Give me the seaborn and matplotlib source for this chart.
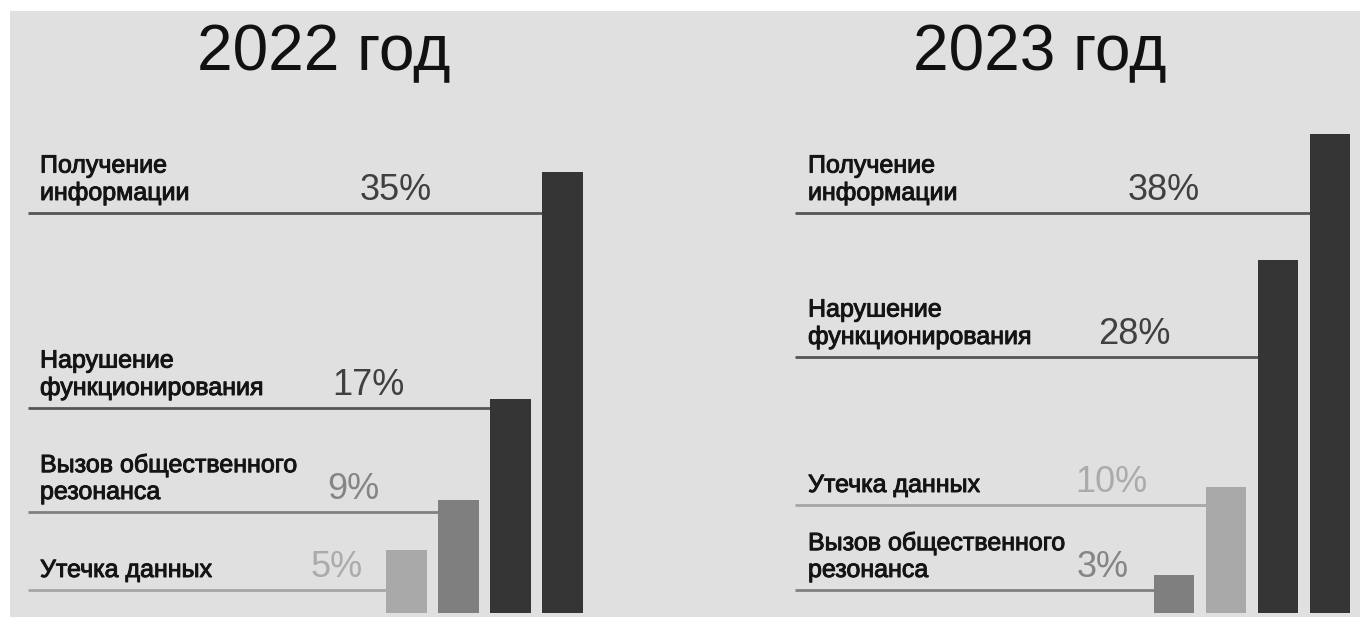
import matplotlib
matplotlib.use("Agg")
import matplotlib.pyplot as plt
import matplotlib.patheffects as pe
import seaborn as sns
import pandas as pd
from matplotlib.patches import Rectangle

# ---------------- data ----------------
years = ["2022 год", "2023 год"]
cats_2022 = ["Утечка данных", "Вызов общественного\nрезонанса",
             "Нарушение\nфункционирования", "Получение\nинформации"]
vals_2022 = [5, 9, 17, 35]
cats_2023 = ["Вызов общественного\nрезонанса", "Утечка данных",
             "Нарушение\nфункционирования", "Получение\nинформации"]
vals_2023 = [3, 10, 28, 38]
pct_2022 = ["5%", "9%", "17%", "35%"]
pct_2023 = ["3%", "10%", "28%", "38%"]

# ---------------- styling / layout ----------------
W, H = 1360, 617
sns.set_theme(style="white")
plt.rcParams["font.family"] = ["Liberation Sans", "DejaVu Sans"]

bar_colors = {
    "Утечка данных": "#a9a9a9",
    "Вызов общественного\nрезонанса": "#7f7f7f",
    "Нарушение\nфункционирования": "#353535",
    "Получение\nинформации": "#353535",
}
line_colors = {
    "Утечка данных": "#a6a6a6",
    "Вызов общественного\nрезонанса": "#808080",
    "Нарушение\nфункционирования": "#555555",
    "Получение\nинформации": "#555555",
}
pct_colors = {
    "Утечка данных": "#ababab",
    "Вызов общественного\nрезонанса": "#858585",
    "Нарушение\nфункционирования": "#404040",
    "Получение\nинформации": "#404040",
}

base_px = 613          # pixel row of value 0
px_per_unit = 12.6     # pixels per percent
bar_step_px = 52.0

panels = [
    dict(cats=cats_2022, vals=vals_2022, pct=pct_2022, title=years[0],
         ax_px=(0, 680), first_center=406.5, title_x=324,
         line_start=28, label_x=40,
         line_rows=[590, 512, 408, 213],
         pct_x=[310, 327, 332, 360]),
    dict(cats=cats_2023, vals=vals_2023, pct=pct_2023, title=years[1],
         ax_px=(680, 1360), first_center=1174, title_x=1040,
         line_start=795, label_x=808,
         line_rows=[590, 505, 357, 213],
         pct_x=[1077, 1075, 1098, 1128]),
]

fig = plt.figure(figsize=(W / 100, H / 100), dpi=100)
fig.patch.set_facecolor("white")
bg = fig.add_axes([0, 0, 1, 1], zorder=-5)
bg.set_xlim(0, W)
bg.set_ylim(H, 0)
bg.axis("off")
bg.add_patch(Rectangle((10, 11), W - 10, H - 11, facecolor="#e0e0e0",
                       edgecolor="none"))

label_fx = [pe.withStroke(linewidth=0.7, foreground="#141414")]

for p in panels:
    x0, x1 = p["ax_px"]
    ax = fig.add_axes([x0 / W, (H - base_px) / H, (x1 - x0) / W, base_px / H])
    ax.set_facecolor("none")
    df = pd.DataFrame({"cat": p["cats"], "val": p["vals"]})
    sns.barplot(data=df, x="cat", y="val", hue="cat", order=p["cats"],
                hue_order=p["cats"], palette=bar_colors, width=0.78,
                legend=False, ax=ax, saturation=1, linewidth=0, zorder=3)
    ax.set_xlim(-(p["first_center"] - x0) / bar_step_px,
                (x1 - p["first_center"]) / bar_step_px)
    ax.set_ylim(0, base_px / px_per_unit)
    ax.axis("off")

    px2x = lambda xp: (xp - p["first_center"]) / bar_step_px
    px2y = lambda yp: (base_px - yp) / px_per_unit

    bars = list(ax.patches)
    for i, cat in enumerate(p["cats"]):
        bar = bars[i]
        ly = px2y(p["line_rows"][i])
        ax.hlines(ly, px2x(p["line_start"]), bar.get_x(),
                  color=line_colors[cat], lw=2.0, zorder=2)
        ax.text(px2x(p["label_x"]), px2y(p["line_rows"][i] - 13), cat,
                ha="left", va="baseline", fontsize=18, color="#141414",
                linespacing=1.15, path_effects=label_fx)
        ax.text(px2x(p["pct_x"][i]), px2y(p["line_rows"][i] - 13), p["pct"][i],
                ha="left", va="baseline", fontsize=26, color=pct_colors[cat])

    fig.text(p["title_x"] / W, 1 - 70 / H, p["title"], ha="center",
             va="baseline", fontsize=46, color="#111111")

fig.savefig("out.png", dpi=100, facecolor="white")
